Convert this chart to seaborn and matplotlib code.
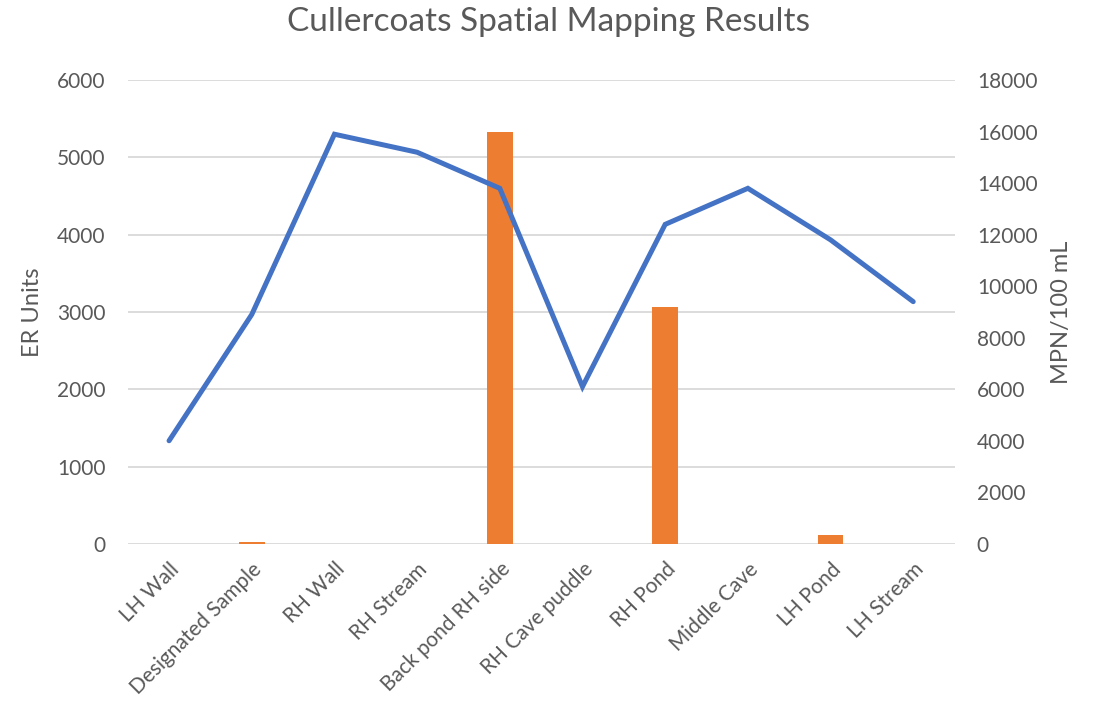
import numpy as np
import pandas as pd
import matplotlib
matplotlib.use("Agg")
import matplotlib.pyplot as plt
import seaborn as sns

# Data
sites = ["LH Wall", "Designated Sample", "RH Wall", "RH Stream", "Back pond RH side",
         "RH Cave puddle", "RH Pond", "Middle Cave", "LH Pond", "LH Stream"]
er_units = [0, 25, 0, 0, 5330, 0, 3070, 0, 115, 0]
mpn_per_100ml = [4000, 8900, 15900, 15200, 13800, 6100, 12400, 13800, 11800, 9400]

sns.set_theme(style="white")
plt.rcParams['font.family'] = ['Lato', 'DejaVu Sans']
text_col = "#595959"

df = pd.DataFrame({"site": sites, "er": er_units, "mpn": mpn_per_100ml})

fig = plt.figure(figsize=(11.01, 7.09), dpi=100)
ax = fig.add_axes([0.116, 0.233, 0.751, 0.654])

# Bars on the left axis
sns.barplot(data=df, x="site", y="er", color="#ED7D31", saturation=1,
            width=0.31, linewidth=0, ax=ax, zorder=2)
ax.set_ylim(0, 6000)
ax.set_yticks(np.arange(0, 6001, 1000))
ax.set_xlim(-0.5, len(sites) - 0.5)
ax.grid(axis="y", color="#D9D9D9", linewidth=1.3, zorder=0)
ax.set_axisbelow(True)
ax.set_ylabel("ER Units", fontsize=17, color=text_col, labelpad=10)
ax.set_xlabel("")
ax.tick_params(axis="y", length=0, labelsize=15, colors=text_col, pad=16)
ax.tick_params(axis="x", length=0, labelsize=15, colors=text_col, pad=11)
ax.set_xticks(range(len(sites)))
ax.set_xticklabels(sites, rotation=45, ha="right", rotation_mode="anchor")
for s in ax.spines.values():
    s.set_visible(False)

# Line on the right axis
ax2 = ax.twinx()
sns.lineplot(x=np.arange(len(sites)), y=df["mpn"], color="#4472C4",
             linewidth=3.6, ax=ax2, solid_capstyle="round", solid_joinstyle="miter")
ax2.set_ylim(0, 18000)
ax2.set_yticks(np.arange(0, 18001, 2000))
ax2.set_ylabel("MPN/100 mL", fontsize=17, color=text_col, labelpad=10)
ax2.tick_params(axis="y", length=0, labelsize=15, colors=text_col, pad=16)
for s in ax2.spines.values():
    s.set_visible(False)

fig.suptitle("Cullercoats Spatial Mapping Results", fontsize=24, color=text_col,
             x=0.498, y=0.99)

fig.savefig("out.png", dpi=100)
